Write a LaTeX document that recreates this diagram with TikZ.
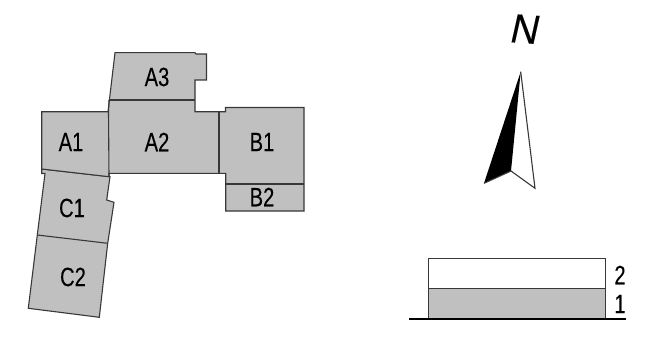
\documentclass[tikz,border=0pt]{standalone}
\usepackage{fontspec}
\setmainfont[FakeStretch=0.76,FakeBold=0.15]{Liberation Sans}
\newfontfamily\northfont[FakeStretch=0.95,FakeSlant=0.15,FakeBold=0.2]{Liberation Sans}
\definecolor{wing}{HTML}{C0C0C0}
\definecolor{edge}{HTML}{383838}
\tikzset{
  wingshape/.style={draw=edge,fill=wing,line width=1.1pt,line join=miter},
  divider/.style={draw=edge,line width=1.1pt},
  wlabel/.style={inner sep=0pt,font=\fontsize{26.5}{26.5}\selectfont,text=black},
}
\begin{document}
\begin{tikzpicture}[x=1pt,y=-1pt]
\useasboundingbox (0,0) rectangle (667,337);
% plan
\path[wingshape] (41.7,169) -- (41.7,173.5) -- (45,173.5) -- (37.3,235) -- (28.3,308.3) -- (99.3,317.3) -- (107.7,243.3) -- (114,202.3) -- (106.7,200) -- (110,176.7) -- cycle;
\path[divider] (37.3,235) -- (107.7,243.3);
\path[wingshape] (115,52.7) -- (195,52.7) -- (196,54) -- (206.5,54) -- (206.5,80) -- (195,80) -- (195,111.7) -- (219,111.7) -- (225.5,111.7) -- (225.5,107.5) -- (304,107.5) -- (304,211) -- (225.7,211) -- (225.7,173.3) -- (109,173.3) -- (109,176.7) -- (41.7,169) -- (41.7,111.7) -- (108,111.7) -- cycle;
\path[divider] (109,100) -- (195,100);
\path[divider] (109,100) -- (108.5,111.7) -- (109,176.7);
\path[divider] (219,111.7) -- (219,173.3);
\path[divider] (225.7,184) -- (304,184);
\node[wlabel] (A1) at (71,142) {A1};
\node[wlabel] (A2) at (157,142) {A2};
\node[wlabel] (A3) at (157,77) {A3};
\node[wlabel] (B1) at (262,142) {B1};
\node[wlabel] (B2) at (262,197) {B2};
\node[wlabel] (C1) at (72,208) {C1};
\node[wlabel] (C2) at (73,277) {C2};
% north arrow
\node[inner sep=0pt,rotate=-4,font=\northfont\fontsize{41}{41}\selectfont] (N) at (523.5,29) {N};
\fill[black] (520.7,71.7) -- (484,183.3) -- (511,171) -- cycle;
\draw[edge,line width=1.1pt,line join=miter] (520.7,71.7) -- (535,188.3) -- (511,171) -- (484,183.3);
% legend
\path[draw=edge,fill=white,line width=1.1pt] (428.3,258.3) rectangle (605.7,288.3);
\path[wingshape] (428.3,288.3) rectangle (605.7,318.7);
\draw[black,line width=1.8pt] (409,319) -- (626,319);
\node[wlabel] (F2) at (620,275) {2};
\node[wlabel] (F1) at (620,304) {1};
\end{tikzpicture}
\end{document}
